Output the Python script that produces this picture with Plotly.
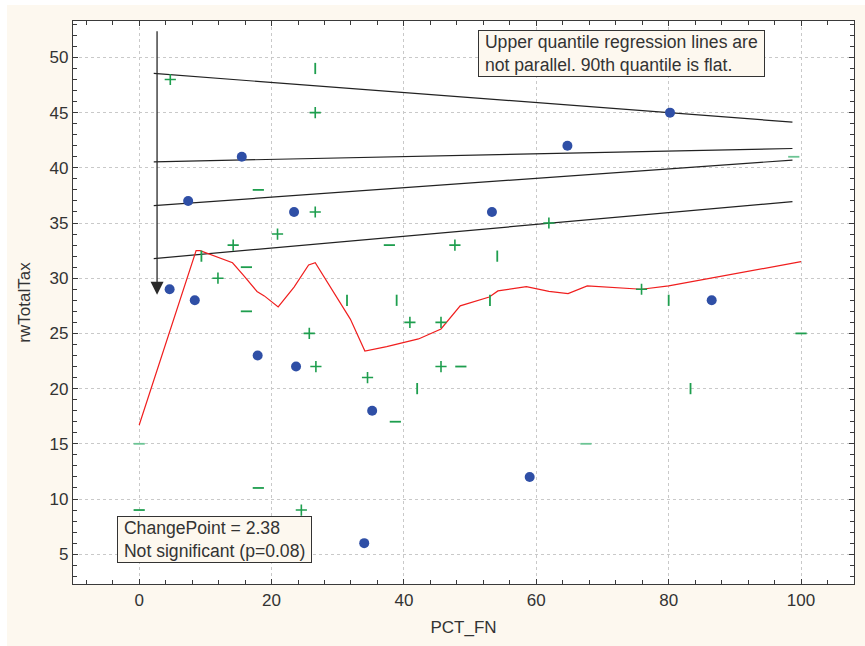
import plotly.graph_objects as go

# ---------------- data ----------------
blue_x = [4.6, 8.4, 7.4, 15.5, 17.9, 23.4, 23.7, 35.2, 34.0, 53.3, 64.7, 59.0, 80.2, 86.5]
blue_y = [29, 28, 37, 41, 23, 36, 22, 18, 6, 36, 42, 12, 45, 28]

plus_x = [4.7, 26.6, 26.6, 20.9, 14.2, 11.9, 25.7, 26.7, 47.7, 61.9, 40.9, 45.6, 45.6, 34.5, 75.9, 24.5]
plus_y = [48, 45, 36, 34, 33, 30, 25, 22, 33, 35, 26, 26, 22, 21, 29, 9]

vbar_x = [26.6, 9.4, 31.4, 54.1, 38.9, 53.0, 42.0, 80.0, 83.3]
vbar_y = [49, 32, 28, 32, 28, 28, 20, 28, 20]

minus_x = [18.0, 16.2, 16.2, 37.8, 48.6, 100, 0, 18.0, 38.7]
minus_y = [38, 31, 27, 33, 22, 25, 9, 11, 17]

minus_light_x = [98.9, 0, 67.5]
minus_light_y = [41, 15, 15]

red_x = [0, 8.6, 9.2, 14.1, 15.7, 17.8, 18.9, 21.0, 23.4, 25.6, 26.6, 31.9, 34.1, 37.4,
         42.2, 45.6, 48.5, 52.9, 54.2, 58.5, 61.9, 64.8, 67.7, 69.7, 75.9, 80.0, 100]
red_y = [16.7, 32.5, 32.5, 31.4, 30.3, 28.8, 28.4, 27.4, 29.2, 31.2, 31.4, 26.3, 23.4, 23.8,
         24.5, 25.4, 27.5, 28.3, 28.85, 29.24, 28.8, 28.6, 29.3, 29.24, 29.0, 29.3, 31.5]

qr_x = [2.2, 98.7]
qr_start_y = [48.55, 40.54, 36.58, 31.78]
qr_end_y = [44.14, 41.75, 40.7, 36.94]

change_x = 2.7
arrow_top_y = 52.5
arrow_tip_y = 28.5

x_ticks = [0, 20, 40, 60, 80, 100]
y_ticks = [5, 10, 15, 20, 25, 30, 35, 40, 45, 50]

note_top = ["Upper quantile regression lines are", "not parallel. 90th quantile is flat."]
note_bottom = ["ChangePoint = 2.38", "Not significant (p=0.08)"]

FONT = "Liberation Sans, Arial, sans-serif"
CREAM = "#FDF8EF"
GREEN = "#1E9E4E"
GREEN_L = "#6CC494"

fig = go.Figure()

for s, e in zip(qr_start_y, qr_end_y):
    fig.add_trace(go.Scatter(x=qr_x, y=[s, e], mode="lines",
                             line=dict(color="#222222", width=1.2), hoverinfo="skip"))

fig.add_trace(go.Scatter(x=red_x, y=red_y, mode="lines",
                         line=dict(color="#F01E1E", width=1.2)))

fig.add_trace(go.Scatter(x=plus_x, y=plus_y, mode="markers",
                         marker=dict(symbol="cross-thin", size=8,
                                     line=dict(color=GREEN, width=1.6))))
fig.add_trace(go.Scatter(x=vbar_x, y=vbar_y, mode="markers",
                         marker=dict(symbol="line-ns", size=8,
                                     line=dict(color=GREEN, width=1.8))))
fig.add_trace(go.Scatter(x=minus_x, y=minus_y, mode="markers",
                         marker=dict(symbol="line-ew", size=8,
                                     line=dict(color=GREEN, width=1.8))))
fig.add_trace(go.Scatter(x=minus_light_x, y=minus_light_y, mode="markers",
                         marker=dict(symbol="line-ew", size=8,
                                     line=dict(color=GREEN_L, width=1.8))))

fig.add_trace(go.Scatter(x=blue_x, y=blue_y, mode="markers",
                         marker=dict(symbol="circle", size=10, color="#2F4FA6")))

# arrow at change point
fig.add_annotation(x=change_x, y=arrow_tip_y, ax=change_x, ay=arrow_top_y,
                   xref="x", yref="y", axref="x", ayref="y",
                   showarrow=True, arrowhead=2, arrowsize=2.0, arrowwidth=1.3,
                   arrowcolor="#2a2a2a", text="")


def boxed(lines):
    return "<br>".join("&nbsp;" + l + "&nbsp;" for l in lines)


fig.add_annotation(x=51.2, y=52.5, xref="x", yref="y", xanchor="left", yanchor="top",
                   showarrow=False, align="left", text=boxed(note_top),
                   font=dict(family=FONT, size=17.6, color="#333333"),
                   bgcolor=CREAM, bordercolor="#333333", borderwidth=1, borderpad=1)

fig.add_annotation(x=-3.3, y=4.16, xref="x", yref="y", xanchor="left", yanchor="bottom",
                   showarrow=False, align="left", text=boxed(note_bottom),
                   font=dict(family=FONT, size=17.6, color="#333333"),
                   bgcolor=CREAM, bordercolor="#333333", borderwidth=1, borderpad=1)

# thin white border around the cream page (left and top edges)
fig.add_shape(type="rect", xref="paper", yref="paper",
              x0=-0.0935, x1=-0.0845, y0=-0.12, y1=1.04,
              fillcolor="white", line_width=0, layer="above")
fig.add_shape(type="rect", xref="paper", yref="paper",
              x0=-0.0935, x1=1.02, y0=1.0284, y1=1.04,
              fillcolor="white", line_width=0, layer="above")

axis_common = dict(
    showline=True, linecolor="#3a3a3a", linewidth=1.2, mirror="ticks",
    ticks="inside", ticklen=5, tickcolor="#3a3a3a",
    showgrid=True, gridcolor="#C9C9C9", griddash="dot", gridwidth=1,
    zeroline=False,
    tickfont=dict(family=FONT, size=17, color="#333333"),
    title_font=dict(family=FONT, size=17, color="#333333"),
)

fig.update_xaxes(range=[-10, 108], tickvals=x_ticks, title_text="PCT_FN",
                 minor=dict(dtick=4, tick0=0, ticks="inside", ticklen=4,
                            tickcolor="#3a3a3a", showgrid=False),
                 title_standoff=12, **axis_common)
fig.update_yaxes(range=[2.3, 53.3], tickvals=y_ticks, title_text="rwTotalTax",
                 minor=dict(dtick=1, tick0=0, ticks="inside", ticklen=4,
                            tickcolor="#3a3a3a", showgrid=False),
                 title_standoff=14, **axis_common)

fig.update_layout(
    width=865, height=646,
    margin=dict(l=73, r=11, t=21, b=62),
    paper_bgcolor=CREAM, plot_bgcolor="white",
    showlegend=False,
    font=dict(family=FONT),
)

fig.write_html("out.html")
